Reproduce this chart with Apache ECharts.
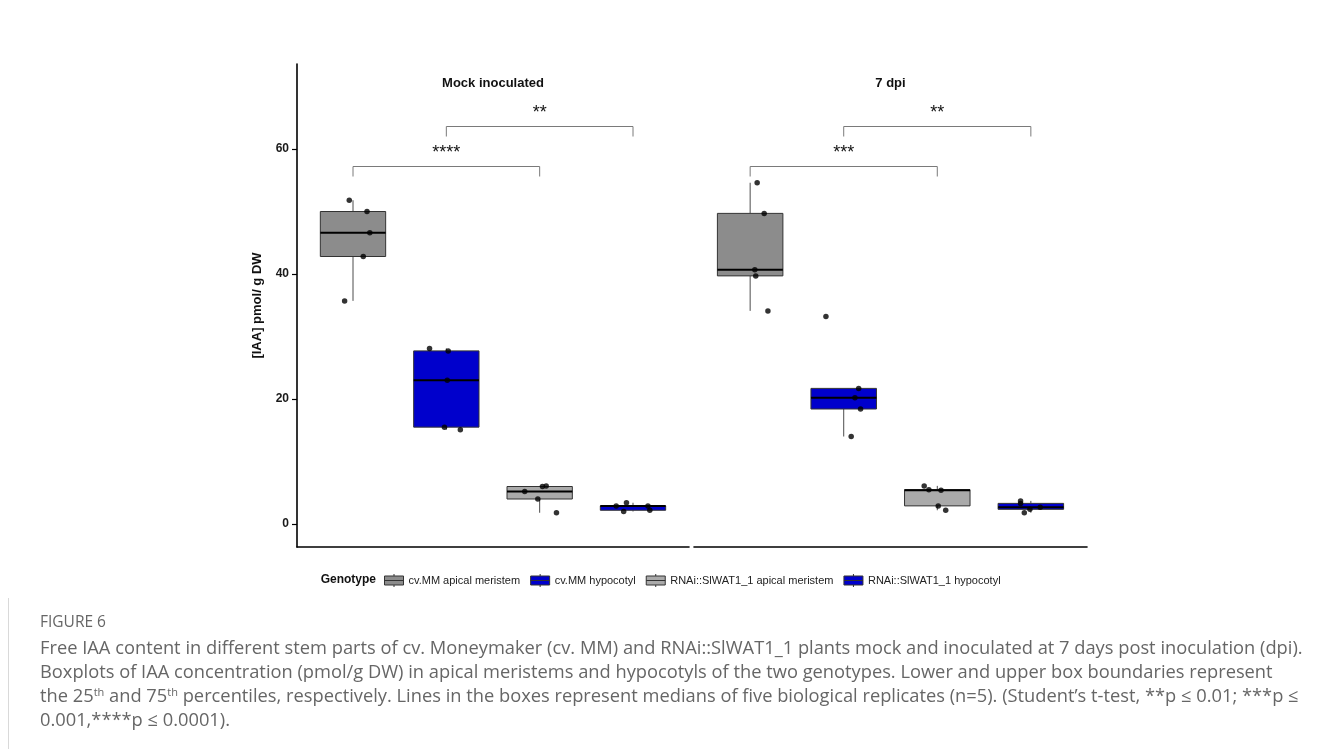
<!DOCTYPE html>
<html>
<head>
<meta charset="utf-8">
<script src="https://cdn.jsdelivr.net/npm/echarts@6/dist/echarts.min.js"></script>
<style>
  html, body { margin: 0; padding: 0; background: #fff; }
  #chart { width: 1322px; height: 749px; }
</style>
</head>
<body>
<div id="chart"></div>
<script>
// ---- data ---------------------------------------------------------------
const panels = ['Mock inoculated', '7 dpi'];
const genotypes = [
  'cv.MM apical meristem',
  'cv.MM hypocotyl',
  'RNAi::SlWAT1_1 apical meristem',
  'RNAi::SlWAT1_1 hypocotyl'
];
const genotypeColors = ['#8c8c8c', '#0000cc', '#aaaaaa', '#0000cc'];

// [IAA] pmol/g DW, five biological replicates per genotype
const mockValues = [
  [35.7, 42.8, 46.6, 50.0, 51.8],
  [15.1, 15.5, 23.0, 27.7, 28.1],
  [1.8, 4.0, 5.2, 6.0, 6.1],
  [2.0, 2.2, 2.9, 2.9, 3.4]
];
const dpi7Values = [
  [34.1, 39.7, 40.7, 49.7, 54.6],
  [14.0, 18.4, 20.2, 21.7, 33.2],
  [2.2, 2.9, 5.4, 5.5, 6.1],
  [1.8, 2.35, 2.7, 3.3, 3.7]
];
// horizontal jitter of the replicate dots (category units)
const mockJitter = [
  [-0.09, 0.11, 0.18, 0.15, -0.04],
  [0.15, -0.02, 0.01, 0.02, -0.18],
  [0.18, -0.02, -0.16, 0.03, 0.07],
  [-0.10, 0.18, -0.18, 0.16, -0.07]
];
const dpi7Jitter = [
  [0.19, 0.06, 0.05, 0.15, 0.075],
  [0.08, 0.18, 0.12, 0.16, -0.19],
  [0.09, 0.01, 0.04, -0.09, -0.14],
  [-0.07, -0.01, 0.10, -0.11, -0.11]
];
// significance brackets: genotype indices compared, bracket level, stars
const mockComparisons = [
  { from: 0, to: 2, level: 57.2, label: '****' },
  { from: 1, to: 3, level: 63.6, label: '**' }
];
const dpi7Comparisons = [
  { from: 0, to: 2, level: 57.2, label: '***' },
  { from: 1, to: 3, level: 63.6, label: '**' }
];
const yTicks = [0, 20, 40, 60];
const yRange = [-3.68, 73.6];

const captionTitle = 'FIGURE 6';
const captionLines = [
  'Free IAA content in different stem parts of cv. Moneymaker (cv. MM) and RNAi::SlWAT1_1 plants mock and inoculated at 7 days post inoculation (dpi).',
  'Boxplots of IAA concentration (pmol/g DW) in apical meristems and hypocotyls of the two genotypes. Lower and upper box boundaries represent',
  'the 25{sup|th} and 75{sup|th} percentiles, respectively. Lines in the boxes represent medians of five biological replicates (n=5). (Student\u2019s t-test, **p \u2264 0.01; ***p \u2264',
  '0.001,****p \u2264 0.0001).'
];

// ---- layout & style ------------------------------------------------------
const FONT = '"Liberation Sans", Arial, sans-serif';
const CAPTION_FONT = '"Open Sans", sans-serif';
const gridBoxes = [
  { left: 297, top: 64, width: 392, height: 483 },
  { left: 694, top: 64, width: 393, height: 483 }
];
const BOX_WIDTH = 0.7;
const TIP = 1.6;

const panelValues = [mockValues, dpi7Values];
const panelJitter = [mockJitter, dpi7Jitter];
const panelComparisons = [mockComparisons, dpi7Comparisons];

// R type-7 quantiles and Tukey whiskers
function quantile(sorted, p) {
  const h = (sorted.length - 1) * p;
  const lo = Math.floor(h), hi = Math.ceil(h);
  return sorted[lo] + (h - lo) * (sorted[hi] - sorted[lo]);
}
function boxStats(vals) {
  const s = vals.slice().sort((a, b) => a - b);
  const q1 = quantile(s, 0.25), med = quantile(s, 0.5), q3 = quantile(s, 0.75);
  const iqr = q3 - q1;
  const lo = s.find(v => v >= q1 - 1.5 * iqr);
  const hi = s.slice().reverse().find(v => v <= q3 + 1.5 * iqr);
  return [lo, q1, med, q3, hi];
}

function renderBox(params, api) {
  const x = api.value(0);
  const c = [1, 2, 3, 4, 5].map(i => api.coord([x, api.value(i)]));
  const half = api.size([BOX_WIDTH, 0])[0] / 2;
  const cx = c[0][0];
  const fill = api.visual('color');
  return {
    type: 'group',
    children: [
      { type: 'line', shape: { x1: cx, y1: c[0][1], x2: cx, y2: c[1][1] }, style: { stroke: '#4d4d4d', lineWidth: 1 } },
      { type: 'line', shape: { x1: cx, y1: c[3][1], x2: cx, y2: c[4][1] }, style: { stroke: '#4d4d4d', lineWidth: 1 } },
      { type: 'rect', shape: { x: cx - half, y: c[3][1], width: half * 2, height: c[1][1] - c[3][1] },
        style: { fill: fill, stroke: '#333', lineWidth: 1 } },
      { type: 'line', shape: { x1: cx - half, y1: c[2][1], x2: cx + half, y2: c[2][1] }, style: { stroke: '#000', lineWidth: 2 } }
    ]
  };
}

function makeBracketRenderer(comps) {
  return function (params, api) {
    const cmp = comps[params.dataIndex];
    const a = api.coord([api.value(0), api.value(2)]);
    const b = api.coord([api.value(1), api.value(2)]);
    const aLow = api.coord([api.value(0), api.value(2) - TIP]);
    const bLow = api.coord([api.value(1), api.value(2) - TIP]);
    return {
      type: 'group',
      children: [
        { type: 'polyline', shape: { points: [aLow, a, b, bLow] }, style: { stroke: '#7a7a7a', lineWidth: 1, fill: null } },
        { type: 'text', x: (a[0] + b[0]) / 2, y: a[1] - 4.5,
          style: { text: cmp.label, fontFamily: FONT, fontSize: 18, fill: '#111', align: 'center', verticalAlign: 'bottom' } }
      ]
    };
  };
}

const grids = gridBoxes.map(g => ({ left: g.left, top: g.top, width: g.width, height: g.height }));

const xAxes = gridBoxes.map((g, i) => ({
  type: 'value', gridIndex: i, min: 0.4, max: 4.6,
  axisLine: { show: true, onZero: false, lineStyle: { color: '#000', width: 1.6 } },
  axisTick: { show: false }, axisLabel: { show: false }, splitLine: { show: false }
}));

const yAxes = gridBoxes.map((g, i) => ({
  type: 'value', gridIndex: i, min: yRange[0], max: yRange[1], show: i === 0,
  name: i === 0 ? '[IAA] pmol/ g DW' : '',
  nameLocation: 'middle', nameRotate: 90, nameGap: 33,
  nameTextStyle: { fontFamily: FONT, fontWeight: 'bold', fontSize: 13, color: '#111' },
  axisLine: { show: true, onZero: false, lineStyle: { color: '#000', width: 1.6 } },
  axisTick: { show: true, length: 5, customValues: yTicks, lineStyle: { color: '#000', width: 1.2 } },
  axisLabel: { customValues: yTicks, margin: 8, fontFamily: FONT, fontWeight: 'bold', fontSize: 12, color: '#1a1a1a' },
  splitLine: { show: false }
}));

const series = [];
panelValues.forEach((groups, p) => {
  groups.forEach((vals, g) => {
    series.push({
      type: 'custom', name: genotypes[g], xAxisIndex: p, yAxisIndex: p,
      itemStyle: { color: genotypeColors[g] },
      renderItem: renderBox,
      encode: { x: 0, y: [1, 2, 3, 4, 5] },
      data: [[g + 1].concat(boxStats(vals))],
      z: 2, silent: true
    });
  });
  const pts = [];
  groups.forEach((vals, g) => vals.forEach((v, k) => pts.push([g + 1 + panelJitter[p][g][k], v])));
  series.push({
    type: 'scatter', name: 'replicates', xAxisIndex: p, yAxisIndex: p,
    symbol: 'circle', symbolSize: 5.5, itemStyle: { color: '#000' },
    data: pts, z: 5, silent: true
  });
  const comps = panelComparisons[p];
  series.push({
    type: 'custom', name: 'significance', xAxisIndex: p, yAxisIndex: p,
    renderItem: makeBracketRenderer(comps),
    encode: { x: [0, 1], y: 2 },
    data: comps.map(c => [c.from + 1, c.to + 1, c.level]),
    z: 3, silent: true
  });
});

const legendIcon = 'path://M9.5,0V2M0,2H19V11H0ZM0,6.5H19M9.5,11V13';

const graphics = [];
gridBoxes.forEach((g, i) => {
  graphics.push({
    type: 'text', x: g.left + g.width / 2, y: 83,
    style: { text: panels[i], fontFamily: FONT, fontWeight: 'bold', fontSize: 13, fill: '#111', align: 'center', verticalAlign: 'middle' }
  });
});
graphics.push({
  type: 'text', x: 376, y: 580,
  style: { text: 'Genotype', fontFamily: FONT, fontWeight: 'bold', fontSize: 12, fill: '#111', align: 'right', verticalAlign: 'middle' }
});
graphics.push({
  type: 'line', shape: { x1: 8.5, y1: 598, x2: 8.5, y2: 749 }, style: { stroke: '#d9d9d9', lineWidth: 1 }
});
graphics.push({
  type: 'text', x: 40, y: 623,
  style: { text: captionTitle, fontFamily: CAPTION_FONT, fontSize: 15.5, fill: '#666', verticalAlign: 'middle' }
});
captionLines.forEach((line, i) => {
  graphics.push({
    type: 'text', x: 40, y: 649 + i * 24,
    style: {
      text: line, fontFamily: CAPTION_FONT, fontSize: 18.3, fill: '#666', verticalAlign: 'middle',
      rich: { sup: { fontFamily: CAPTION_FONT, fontSize: 11, fill: '#666', verticalAlign: 'top', padding: [0, 0, 9, 0] } }
    }
  });
});

const option = {
  backgroundColor: '#fff',
  animation: false,
  grid: grids,
  xAxis: xAxes,
  yAxis: yAxes,
  legend: {
    left: 384, top: 573.5, orient: 'horizontal', padding: 0,
    itemWidth: 19, itemHeight: 13, itemGap: 10, selectedMode: false,
    textStyle: { fontFamily: FONT, fontSize: 11, color: '#222' },
    data: genotypes.map((name, g) => ({
      name: name, icon: legendIcon,
      itemStyle: { color: genotypeColors[g], borderColor: '#333', borderWidth: 1 }
    }))
  },
  series: series,
  graphic: graphics
};

const chart = echarts.init(document.getElementById('chart'), null, { renderer: 'canvas' });
chart.setOption(option);
</script>
</body>
</html>
